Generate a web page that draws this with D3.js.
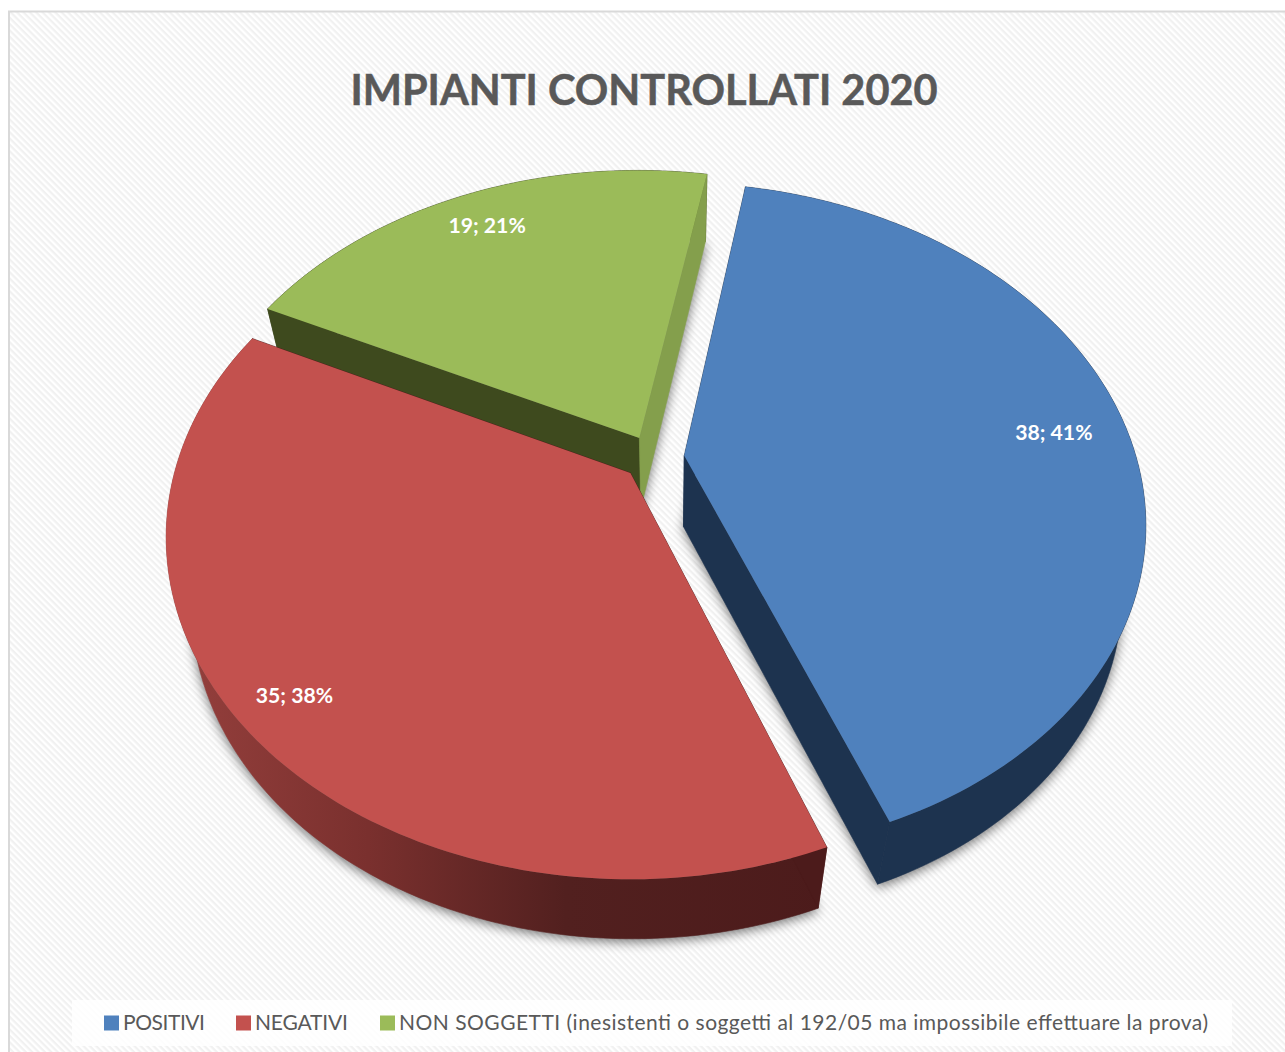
<!DOCTYPE html>
<html><head><meta charset="utf-8">
<script src="https://cdn.jsdelivr.net/npm/d3@7/dist/d3.min.js"></script>
<style>html,body{margin:0;padding:0;background:#fff;overflow:hidden}svg{display:block}</style>
</head><body>
<svg id="chart" width="1285" height="1052"></svg>
<script>
const categories = ["POSITIVI","NEGATIVI","NON SOGGETTI (inesistenti o soggetti al 192/05 ma impossibile effettuare la prova)"];
const values = [38,35,19];
const percentLabels = ["41%","38%","21%"];
const topColors = ["#4f81bd","#c3514e","#9bbb59"];
const titleText = "IMPIANTI CONTROLLATI 2020";

const svg = d3.select("#chart");
const defs = svg.append("defs");
const pat = defs.append("pattern").attr("id","stripes").attr("patternUnits","userSpaceOnUse")
  .attr("width",4.5).attr("height",4.5).attr("patternTransform","rotate(45)");
pat.append("rect").attr("width",4.5).attr("height",4.5).attr("fill","#ffffff");
pat.append("rect").attr("width",4.5).attr("height",2.2).attr("fill","#f1f1f1");

const sh = defs.append("filter").attr("id","shadow").attr("x","-10%").attr("y","-10%").attr("width","120%").attr("height","120%");
sh.append("feGaussianBlur").attr("in","SourceAlpha").attr("stdDeviation",6).attr("result","b");
sh.append("feOffset").attr("in","b").attr("dx",0).attr("dy",3).attr("result","o");
sh.append("feComponentTransfer").append("feFuncA").attr("type","linear").attr("slope",0.55);

const redWall = defs.append("linearGradient").attr("id","redWall").attr("gradientUnits","userSpaceOnUse")
  .attr("x1",170).attr("x2",830).attr("y1",0).attr("y2",0);
[[0,"#96403d"],[0.3,"#7a302e"],[0.6,"#52201f"],[1,"#4c1b1b"]].forEach(s=>redWall.append("stop").attr("offset",s[0]).attr("stop-color",s[1]));

svg.append("rect").attr("x",9).attr("y",11.5).attr("width",1290).attr("height",1060)
  .attr("fill","url(#stripes)").attr("stroke","#d9d9d9").attr("stroke-width",2);

svg.append("text").attr("x",644).attr("y",105).attr("text-anchor","middle")
  .attr("font-family","Lato").attr("font-weight",700).attr("font-size",41.5)
  .attr("fill","#595959").attr("stroke","#595959").attr("stroke-width",0.5).text(titleText);

// perspective projection of the pie plane
const view = {cx:630.5, cy:473, rx:456, ry:330, p:0.188};
const plane = {ox:0.0506, oy:-0.0465, explode:0.0687};
const labelRadii = [0.835,0.885,0.86];
const project = (x,y)=>{const k=1/(1-view.p*y);return [view.cx+view.rx*x*k, view.cy+view.ry*y*k];};
const lower = ([sx,sy])=>{
  const d=71-5.7e-5*(sy-430)*(sy-430), f=d/(1950-sy);
  return [sx-(sx-669)*f, sy+d];
};

const arcs = d3.pie().sort(null).value(d=>d)
  .startAngle(10.5*Math.PI/180).endAngle((10.5+360)*Math.PI/180)(values);

const geom = arcs.map((a,i)=>{
  const mid=(a.startAngle+a.endAngle)/2;
  const ax=plane.ox+plane.explode*Math.sin(mid), ay=plane.oy-plane.explode*Math.cos(mid);
  const steps=d3.range(0,121).map(t=>a.startAngle+(a.endAngle-a.startAngle)*t/120);
  const rim=steps.map(t=>project(ax+Math.sin(t),ay-Math.cos(t)));
  const apex=project(ax,ay);
  const label=project(ax+labelRadii[i]*Math.sin(mid),ay-labelRadii[i]*Math.cos(mid));
  return {i,a,rim,apex,label};
});
const line=d3.line();
const wallStyles=[
  {start:"#1d334f",end:"#1d334f",outer:"#1d334f"},
  {start:"#4c1b1b",end:"#4c1b1b",outer:"url(#redWall)"},
  {start:"#3e4a1e",end:"#849f4c",outer:"#3e4a1e"}
];
function drawSlice(g,d){
  const w=wallStyles[d.i], first=d.rim[0], last=d.rim[d.rim.length-1];
  const wall=(pts,c)=>g.append("path").attr("d",line(pts)+"Z").attr("fill",c).attr("stroke",c).attr("stroke-width",0.6);
  wall(d.rim.concat(d.rim.map(lower).reverse()),w.outer);
  wall([d.apex,first,lower(first),lower(d.apex)],w.start);
  wall([d.apex,last,lower(last),lower(d.apex)],w.end);
  g.append("path").attr("d",line([d.apex].concat(d.rim))+"Z").attr("fill",topColors[d.i]);
}
const order=[2,0,1];
// the soft shadow is cast by the underside of the pie
const shadowG=svg.append("g").attr("filter","url(#shadow)");
order.forEach(i=>{
  const d=geom[i];
  shadowG.append("path").attr("d",line([d.apex].concat(d.rim).map(lower))+"Z").attr("fill","#000");
});
order.forEach(i=>drawSlice(svg.append("g"),geom[i]));

geom.forEach(d=>{
  svg.append("text").attr("x",d.label[0]).attr("y",d.label[1]+8.5).attr("text-anchor","middle")
    .attr("font-family","Lato").attr("font-weight",700).attr("font-size",21.2).attr("fill","#fff")
    .text(values[d.i]+"; "+percentLabels[d.i]);
});

// legend
svg.append("rect").attr("x",72).attr("y",1000).attr("width",1160).attr("height",46).attr("fill","#fff").attr("fill-opacity",0.85);
const legendX=[104,236,380];
const legendTextWidths=[82,93,809];
categories.forEach((c,i)=>{
  svg.append("rect").attr("x",legendX[i]).attr("y",1015.5).attr("width",15).attr("height",15).attr("fill",topColors[i]);
  svg.append("text").attr("x",legendX[i]+19).attr("y",1030).attr("font-family","Lato").attr("font-size",21)
    .attr("textLength",legendTextWidths[i]).attr("lengthAdjust","spacing").attr("fill","#595959").text(c);
});
</script>
</body></html>
